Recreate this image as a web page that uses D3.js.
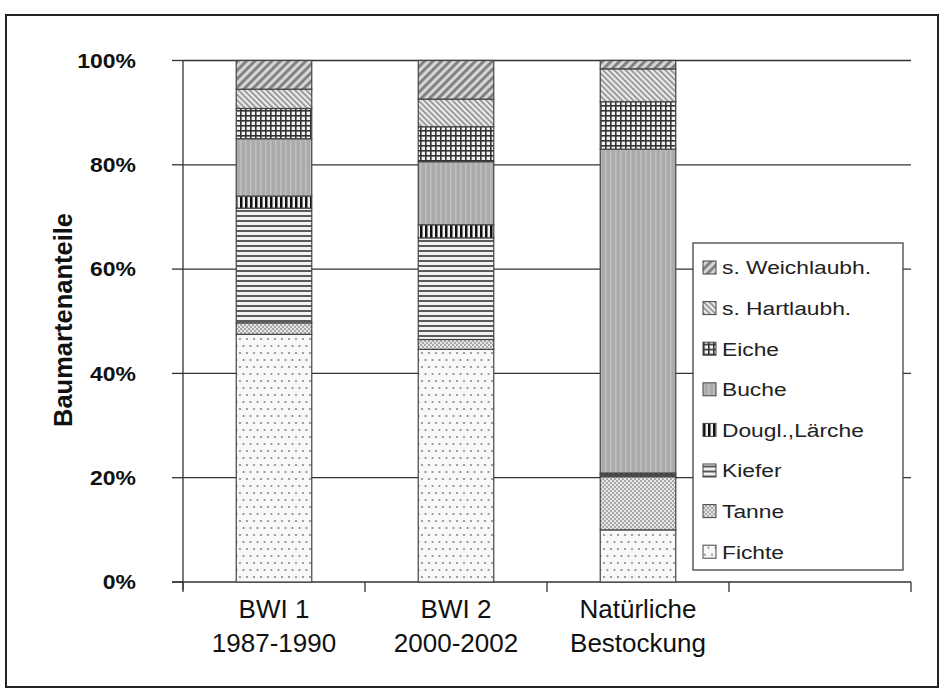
<!DOCTYPE html>
<html lang="de">
<head>
  <meta charset="UTF-8" />
  <title>Baumartenanteile</title>
  <script src="https://d3js.org/d3.v7.min.js"></script>
  <style>
    body { margin: 0; background: #fff; }
    svg { display: block; font-family: "Liberation Sans", Arial, sans-serif; }
  </style>
</head>
<body>
  <svg id="chart"></svg>
  <script>
    const width = 945;
    const height = 693;

    // data (percent)
    const categories = [["BWI 1", "1987-1990"], ["BWI 2", "2000-2002"], ["Natürliche", "Bestockung"], ["", ""]];
    const species = ["Fichte", "Tanne", "Kiefer", "Dougl.,Lärche", "Buche", "Eiche", "s. Hartlaubh.", "s. Weichlaubh."];
    const bwi1 = [47.5, 2.2, 22.0, 2.3, 11.0, 5.8, 3.7, 5.5];
    const bwi2 = [44.6, 1.9, 19.5, 2.5, 12.1, 6.7, 5.3, 7.4];
    const natuerlich = [10.0, 10.2, 0.4, 0.3, 62.1, 9.1, 6.3, 1.6];
    const yTicks = [0, 20, 40, 60, 80, 100];

    const series = [bwi1, bwi2, natuerlich];
    const rows = series.map((vals, i) => {
      const r = { cat: i };
      species.forEach((s, j) => r[s] = vals[j]);
      return r;
    });

    const svg = d3.select("#chart")
      .attr("width", width)
      .attr("height", height);

    // patterns, Excel style greys
    const defs = svg.append("defs");
    function pat(id, w, h, draw, transform) {
      const p = defs.append("pattern")
        .attr("id", id)
        .attr("patternUnits", "userSpaceOnUse")
        .attr("width", w)
        .attr("height", h);
      if (transform) p.attr("patternTransform", transform);
      draw(p);
    }
    pat("p-fichte", 7, 14, p => {
      p.append("rect").attr("width", 7).attr("height", 14).attr("fill", "#f8f8f8");
      p.append("circle").attr("cx", 2).attr("cy", 3).attr("r", 1.1).attr("fill", "#8a8a8a");
      p.append("circle").attr("cx", 5.5).attr("cy", 10).attr("r", 1.1).attr("fill", "#8a8a8a");
    });
    pat("p-tanne", 4, 4, p => {
      p.append("rect").attr("width", 4).attr("height", 4).attr("fill", "#e6e6e6");
      p.append("rect").attr("width", 2).attr("height", 2).attr("fill", "#a8a8a8");
      p.append("rect").attr("x", 2).attr("y", 2).attr("width", 2).attr("height", 2).attr("fill", "#a8a8a8");
    });
    pat("p-kiefer", 4, 5, p => {
      p.append("rect").attr("width", 4).attr("height", 5).attr("fill", "#f2f2f2");
      p.append("rect").attr("width", 4).attr("height", 2).attr("fill", "#5a5a5a");
    });
    pat("p-dougl", 5, 5, p => {
      p.append("rect").attr("width", 5).attr("height", 5).attr("fill", "#f0f0f0");
      p.append("rect").attr("width", 2.5).attr("height", 5).attr("fill", "#111");
    });
    pat("p-buche", 5, 5, p => {
      p.append("rect").attr("width", 5).attr("height", 5).attr("fill", "#ababab");
      p.append("rect").attr("width", 1.5).attr("height", 5).attr("fill", "#bfbfbf");
    });
    pat("p-eiche", 5, 5, p => {
      p.append("rect").attr("width", 5).attr("height", 5).attr("fill", "#f2f2f2");
      p.append("rect").attr("width", 1.6).attr("height", 5).attr("fill", "#333");
      p.append("rect").attr("width", 5).attr("height", 1.6).attr("fill", "#333");
    });
    pat("p-hart", 4, 4, p => {
      p.append("rect").attr("width", 4).attr("height", 4).attr("fill", "#eaeaea");
      p.append("rect").attr("width", 1.5).attr("height", 4).attr("fill", "#858585");
    }, "rotate(-45)");
    pat("p-weich", 6, 6, p => {
      p.append("rect").attr("width", 6).attr("height", 6).attr("fill", "#d6d6d6");
      p.append("rect").attr("width", 2.8).attr("height", 6).attr("fill", "#7e7e7e");
    }, "rotate(45)");

    const fills = ["p-fichte", "p-tanne", "p-kiefer", "p-dougl", "p-buche", "p-eiche", "p-hart", "p-weich"];
    const fillOf = d3.scaleOrdinal().domain(species).range(fills.map(f => `url(#${f})`));

    // outer frame
    svg.append("rect")
      .attr("x", 6).attr("y", 15)
      .attr("width", 932).attr("height", 672)
      .attr("fill", "none")
      .attr("stroke", "#222")
      .attr("stroke-width", 2);

    const x = d3.scaleBand()
      .domain(d3.range(categories.length))
      .range([183, 911])
      .paddingInner(0.585)
      .paddingOuter(0.2925);

    const y = d3.scaleLinear()
      .domain([0, 100])
      .range([582, 60.5]);

    // gridlines
    svg.append("g")
      .selectAll("line")
      .data(yTicks.filter(t => t > 0))
      .join("line")
      .attr("x1", 183).attr("x2", 911)
      .attr("y1", d => y(d)).attr("y2", d => y(d))
      .attr("stroke", "#333")
      .attr("stroke-width", 1.3);

    // y axis
    const yAxis = svg.append("g");
    yAxis.append("line")
      .attr("x1", 183).attr("x2", 183)
      .attr("y1", y(100)).attr("y2", y(0) + 8)
      .attr("stroke", "#333").attr("stroke-width", 1.3);
    yAxis.selectAll(".tick")
      .data(yTicks)
      .join("line")
      .attr("x1", 172).attr("x2", 183)
      .attr("y1", d => y(d)).attr("y2", d => y(d))
      .attr("stroke", "#333").attr("stroke-width", 1.3);
    yAxis.selectAll("text")
      .data(yTicks)
      .join("text")
      .attr("transform", d => `translate(136,${y(d)}) scale(1.12,1)`)
      .attr("text-anchor", "end")
      .attr("dy", "0.36em")
      .attr("font-size", 20.5)
      .attr("font-weight", "bold")
      .attr("fill", "#111")
      .text(d => d + "%");

    svg.append("text")
      .attr("transform", "translate(72,320) rotate(-90)")
      .attr("text-anchor", "middle")
      .attr("font-size", 25.5)
      .attr("font-weight", "bold")
      .attr("fill", "#111")
      .text("Baumartenanteile");

    // x axis with ticks between categories
    const step = x.step();
    const x0 = x.range()[0];
    const xAxis = svg.append("g");
    xAxis.append("line")
      .attr("x1", 172).attr("x2", 911)
      .attr("y1", y(0)).attr("y2", y(0))
      .attr("stroke", "#333").attr("stroke-width", 1.3);
    xAxis.selectAll(".tick")
      .data(d3.range(categories.length + 1))
      .join("line")
      .attr("x1", i => x0 + i * step).attr("x2", i => x0 + i * step)
      .attr("y1", y(0)).attr("y2", y(0) + 10)
      .attr("stroke", "#333").attr("stroke-width", 1.3);
    const labels = xAxis.selectAll("text")
      .data(categories)
      .join("text")
      .attr("text-anchor", "middle")
      .attr("font-size", 26)
      .attr("fill", "#111");
    labels.each(function (d, i) {
      const cx = x(i) + x.bandwidth() / 2;
      d3.select(this).append("tspan").attr("x", cx).attr("y", 618).text(d[0]);
      d3.select(this).append("tspan").attr("x", cx).attr("y", 652).text(d[1]);
    });

    // stacked bars
    const stacked = d3.stack().keys(species)(rows);
    svg.append("g")
      .selectAll("g")
      .data(stacked)
      .join("g")
      .attr("fill", d => fillOf(d.key))
      .selectAll("rect")
      .data(d => d)
      .join("rect")
      .attr("x", d => x(d.data.cat))
      .attr("width", x.bandwidth())
      .attr("y", d => y(d[1]))
      .attr("height", d => y(d[0]) - y(d[1]))
      .attr("stroke", "#444")
      .attr("stroke-width", 1.2);

    // legend
    const legend = svg.append("g");
    legend.append("rect")
      .attr("x", 693).attr("y", 243)
      .attr("width", 210).attr("height", 327)
      .attr("fill", "#fff")
      .attr("stroke", "#444")
      .attr("stroke-width", 1.3);
    const order = species.slice().reverse();
    const item = legend.selectAll(".item")
      .data(order)
      .join("g")
      .attr("transform", (d, i) => `translate(703,${267.5 + i * 40.6})`);
    item.append("rect")
      .attr("x", 0).attr("y", -6.5)
      .attr("width", 13).attr("height", 13)
      .attr("fill", d => fillOf(d))
      .attr("stroke", "#444")
      .attr("stroke-width", 1);
    item.append("text")
      .attr("transform", "translate(19,0) scale(1.2,1)")
      .attr("dy", "0.36em")
      .attr("font-size", 19)
      .attr("fill", "#222")
      .text(d => d);
  </script>
</body>
</html>
